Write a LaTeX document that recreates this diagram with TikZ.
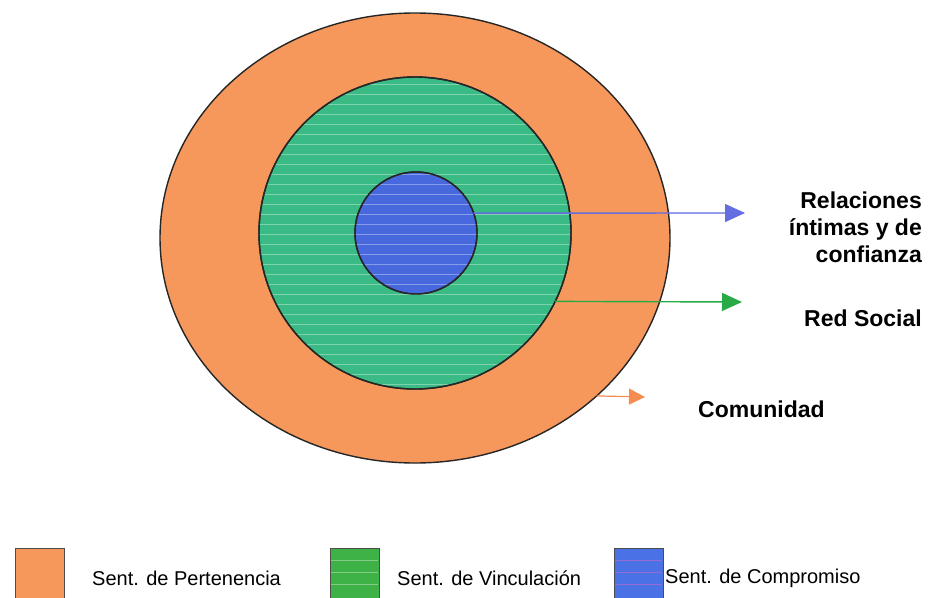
\documentclass[tikz,border=0pt]{standalone}
\usepackage{fontspec}
\setmainfont{Liberation Sans}
\usetikzlibrary{shapes.geometric,arrows.meta}
\definecolor{orangeC}{RGB}{246,152,92}
\definecolor{greenC}{RGB}{58,186,132}
\definecolor{blueC}{RGB}{72,104,222}
\definecolor{legGreen}{RGB}{62,178,70}
\definecolor{legBlue}{RGB}{74,114,230}
\definecolor{arrBlue}{RGB}{100,110,225}
\definecolor{arrGreen}{RGB}{40,170,70}
\definecolor{arrOrange}{RGB}{246,140,80}
\tikzset{
  ring/.style={draw=black!85, line width=1.4pt, inner sep=0pt, outer sep=0pt},
  arr/.style={line width=1.4pt, -{Triangle[length=20pt,width=18pt]}},
  lbl/.style={font=\fontsize{23}{27}\selectfont\bfseries, align=right, inner sep=0pt},
  leg/.style={font=\fontsize{20}{22}\selectfont, anchor=west, inner sep=0pt},
  legbox/.style={draw=black!70, line width=0.8pt, minimum width=49pt, minimum height=50pt, inner sep=0pt, anchor=north west},
  stripe/.style={white, line width=0.9pt, opacity=0.35}
}
\begin{document}
\begin{tikzpicture}[x=1pt,y=-1pt]
\useasboundingbox (0,0) rectangle (933,597);
\node[ring, ellipse, fill=orangeC, minimum width=510pt, minimum height=450pt] (outer) at (415,238) {};
\node[ring, circle, fill=greenC, minimum size=312pt] (green) at (415,233) {};
\node[ring, circle, fill=blueC, minimum size=122pt] (blue) at (416,233) {};
\begin{scope}
  \clip (415,233) circle (155pt);
  \foreach \yy in {84,94,...,384} \draw[stripe] (255,\yy) -- (575,\yy);
\end{scope}
\node[ring, circle, minimum size=312pt] (greenrim) at (415,233) {};
\node[ring, circle, minimum size=122pt] (bluerim) at (416,233) {};
% arrows
\coordinate (bEnd) at (745,213);
\coordinate (gEnd) at (742,302);
\coordinate (oEnd) at (645,397);
\draw[arr, draw=arrBlue, fill=blueC] (blue.19) -- (bEnd);
\draw[arr, draw=arrGreen, fill=arrGreen!85!white] (green.-26) -- (gEnd);
\draw[arr, draw=arrOrange, fill=arrOrange, line width=1.2pt, -{Triangle[length=16pt,width=16pt]}] (outer.-41.5) -- (oEnd);
% labels
\node[lbl, anchor=north east] (rel) at (922,192) {Relaciones\\íntimas y de\\confianza};
\node[lbl, anchor=east] (red) at (922,318) {Red Social};
\node[lbl, anchor=west] (com) at (698,409) {Comunidad};
% legend
\node[legbox, fill=orangeC] (lo) at (15,548) {};
\node[legbox, fill=legGreen] (lg) at (330,548) {};
\node[legbox, fill=legBlue] (lb) at (614,548) {};
\foreach \yy in {560,572,584} {
  \draw[white, opacity=0.35, line width=0.8pt] ([yshift=-\yy+548]lg.north west) ++(1,0) -- ++(47,0);
  \draw[magenta!60!white, opacity=0.45, line width=0.8pt] ([yshift=-\yy+548]lb.north west) ++(1,0) -- ++(47,0);
}
\node[leg] (t1) at (92,578) {Sent. de Pertenencia};
\node[leg] (t2) at (397,578) {Sent. de Vinculación};
\node[leg] (t3) at (665,578) {Sent. de Compromiso};
\end{tikzpicture}
\end{document}
